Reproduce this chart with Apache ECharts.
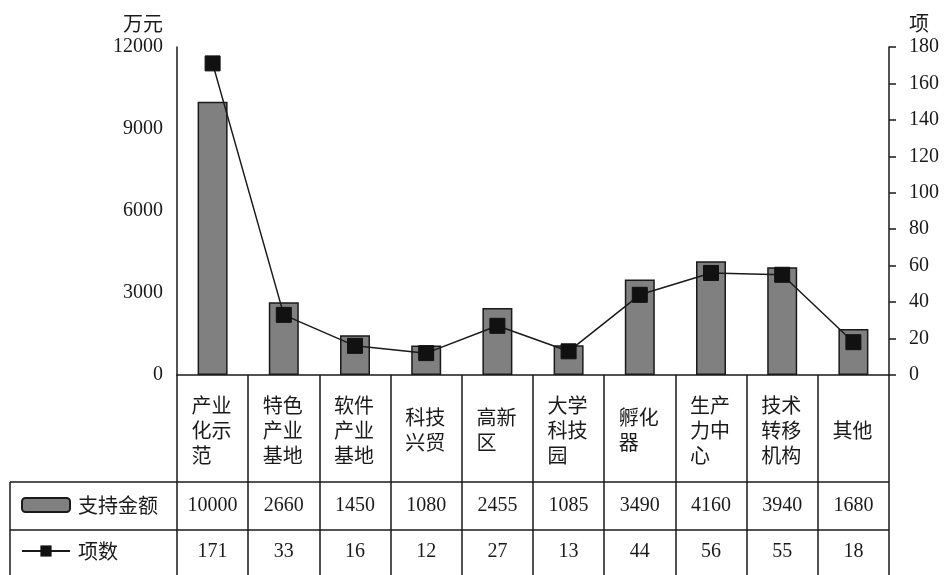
<!DOCTYPE html>
<html><head><meta charset="utf-8">
<script src="https://cdn.jsdelivr.net/npm/echarts@6/dist/echarts.min.js"></script>
<style>html,body{margin:0;padding:0;background:#fff}#c{width:948px;height:575px}</style>
</head><body><div id="c"></div>
<script>
var categories = ['产业化示范','特色产业基地','软件产业基地','科技兴贸','高新区','大学科技园','孵化器','生产力中心','技术转移机构','其他'];
var amounts = [10000, 2660, 1450, 1080, 2455, 1085, 3490, 4160, 3940, 1680];
var counts = [171, 33, 16, 12, 27, 13, 44, 56, 55, 18];
var leftTicks = {min: 0, max: 12000, interval: 3000};
var rightTicks = {min: 0, max: 180, interval: 20};

var G = {left: 177, right: 59, top: 47, bottom: 200};
var W = 948, H = 575;
var rightX = W - G.right;
var serif = '"Liberation Serif","DejaVu Serif",serif';
var cjk = '"Noto Sans CJK SC","Liberation Serif",sans-serif';
var ink = '#1a1a1a';

function catLabel(v) {
  var parts = [];
  for (var i = 0; i < v.length; i += 2) parts.push('{a|' + v.slice(i, i + 2) + '}');
  return parts.join('\n');
}

var chart = echarts.init(document.getElementById('c'));
chart.setOption({
  animation: false,
  backgroundColor: '#fff',
  grid: {left: G.left, right: G.right, top: G.top, bottom: G.bottom, containLabel: false},
  legend: {
    orient: 'vertical', left: 21, top: 492, height: 90, itemWidth: 48, itemHeight: 14, itemGap: 20,
    padding: 0,
    textStyle: {fontFamily: cjk, fontSize: 20, color: ink, lineHeight: 26, padding: [0, 0, 0, 3]},
    data: ['支持金额', '项数']
  },
  xAxis: [
    {type: 'category', data: categories, position: 'bottom',
     axisLine: {show: true, lineStyle: {color: ink, width: 1.5}},
     axisTick: {show: true, length: 200, lineStyle: {color: ink, width: 1.5}},
     axisLabel: {formatter: catLabel, margin: 55, verticalAlign: 'middle', interval: 0,
       rich: {a: {width: 42, align: 'left', fontFamily: cjk, fontSize: 20, lineHeight: 25, color: ink}}}},
    {type: 'category', data: categories, position: 'bottom',
     axisLine: {show: false}, axisTick: {show: false},
     axisLabel: {formatter: function (v, i) { return String(amounts[i]); }, margin: 131, verticalAlign: 'middle', interval: 0,
       fontFamily: serif, fontSize: 20, color: ink}},
    {type: 'category', data: categories, position: 'bottom',
     axisLine: {show: false}, axisTick: {show: false},
     axisLabel: {formatter: function (v, i) { return String(counts[i]); }, margin: 177, verticalAlign: 'middle', interval: 0,
       fontFamily: serif, fontSize: 20, color: ink}}
  ],
  yAxis: [
    {type: 'value', min: leftTicks.min, max: leftTicks.max, interval: leftTicks.interval, position: 'left',
     name: '万元', nameLocation: 'end', nameGap: 14,
     nameTextStyle: {fontFamily: cjk, fontSize: 20, color: ink, align: 'right', padding: [0, 14, 0, 0]},
     axisLine: {show: true, lineStyle: {color: ink, width: 1.5}}, axisTick: {show: false},
     splitLine: {show: false},
     axisLabel: {margin: 14, fontFamily: serif, fontSize: 20, color: ink, formatter: function (v) { return String(v); }}},
    {type: 'value', min: rightTicks.min, max: rightTicks.max, interval: rightTicks.interval, position: 'right',
     name: '项', nameLocation: 'end', nameGap: 14,
     nameTextStyle: {fontFamily: cjk, fontSize: 20, color: ink, align: 'left', padding: [0, 0, 0, 20]},
     axisLine: {show: true, lineStyle: {color: ink, width: 1.5}},
     axisTick: {show: true, length: 7, lineStyle: {color: ink, width: 1.5}},
     splitLine: {show: false},
     axisLabel: {margin: 20, fontFamily: serif, fontSize: 20, color: ink, formatter: function (v) { return String(v); }}}
  ],
  series: [
    {name: '支持金额', type: 'bar', xAxisIndex: 0, yAxisIndex: 0, data: amounts, barWidth: 30,
     itemStyle: {color: '#808080', borderColor: ink, borderWidth: 1.5}},
    {name: '项数', type: 'line', xAxisIndex: 0, yAxisIndex: 1, data: counts,
     symbol: 'rect', symbolSize: 15, lineStyle: {color: ink, width: 1.5},
     itemStyle: {color: '#111', borderColor: '#111'}}
  ],
  graphic: [
    {type: 'line', shape: {x1: 10, y1: 482, x2: rightX, y2: 482}, style: {stroke: ink, lineWidth: 1.5}},
    {type: 'line', shape: {x1: 10, y1: 530, x2: rightX, y2: 530}, style: {stroke: ink, lineWidth: 1.5}},
    {type: 'line', shape: {x1: 10, y1: 482, x2: 10, y2: H}, style: {stroke: ink, lineWidth: 1.5}}
  ]
});
</script>
</body></html>
